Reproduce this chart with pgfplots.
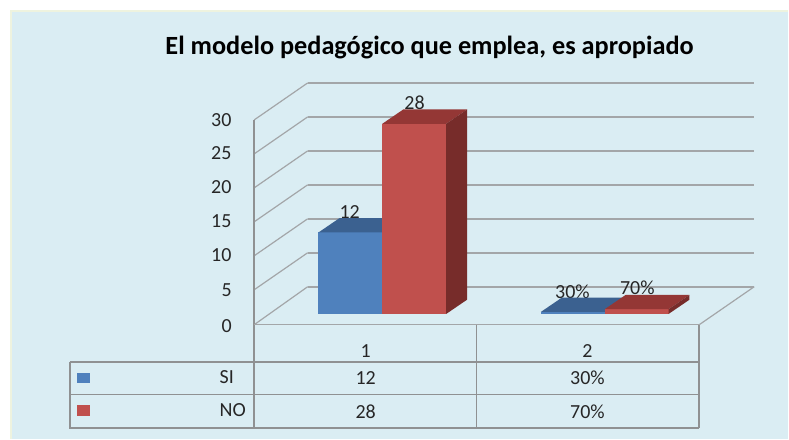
\documentclass[border=0pt]{standalone}
\usepackage{pgfplots}
\pgfplotsset{compat=1.18}
\usepackage{fontspec}
\setmainfont{Carlito}
\definecolor{panel}{HTML}{DAEDF3}
\definecolor{panelb}{HTML}{EEF3DF}
\definecolor{gridc}{HTML}{A3A6A8}
\definecolor{tablec}{HTML}{8F9192}
\definecolor{blueF}{HTML}{4F81BD}
\definecolor{blueT}{HTML}{3B6190}
\definecolor{blueS}{HTML}{2F4E74}
\definecolor{redF}{HTML}{C0504D}
\definecolor{redT}{HTML}{943735}
\definecolor{redS}{HTML}{772C2A}
\definecolor{txt}{HTML}{262626}
\pgfplotsset{base/.style={scale only axis,width=789pt,height=439pt,hide axis,clip=false}}
\newcommand{\lab}[3]{\node[font=\fontsize{20}{20}\selectfont,text=txt,anchor=center,inner sep=0pt] at (axis cs:#1,#2) {#3};}
\begin{document}
\begin{tikzpicture}
% structure of the chart, in picture units
\begin{axis}[base,xmin=0,xmax=789,ymin=0,ymax=439,y dir=reverse]
\addplot[fill=white,draw=none] coordinates {(0,0)(789,0)(789,439)(0,439)} -- cycle;
\addplot[fill=panel,draw=none] coordinates {(11,11)(789,11)(789,439)(11,439)} -- cycle;
\addplot[panelb,line width=1.6pt] coordinates {(11,439)(11,11)(789,11)};
% back wall lines
\foreach \a in {83,117,151,185,219,253,287}{
  \edef\tmp{\noexpand\addplot[gridc,line width=1.7pt] coordinates {(308,\a)(755,\a)};}\tmp
}
% side wall lines
\foreach \a/\b in {120/83,154/117,188/151,222/185,256/219,290/253,325/287}{
  \edef\tmp{\noexpand\addplot[gridc,line width=1.2pt] coordinates {(254.5,\a)(308,\b)};}\tmp
}
\addplot[gridc,line width=1.2pt] coordinates {(700,325)(755,287)};
\addplot[tablec,line width=1.9pt] coordinates {(254.5,120)(254.5,428)};
\addplot[gridc,line width=1.6pt] coordinates {(254.5,325)(700,325)};
\addplot[tablec,line width=1.9pt] coordinates {(700,325)(700,428)};
\addplot[tablec,line width=1.3pt] coordinates {(477,325)(477,428)};
\addplot[tablec,line width=1.9pt] coordinates {(70,362)(700,362)};
\addplot[tablec,line width=1.3pt] coordinates {(70,395)(700,395)};
\addplot[tablec,line width=1.9pt] coordinates {(70,362)(70,428)(700,428)};
\addplot[fill=blueF,draw=none] coordinates {(77,373)(90,373)(90,383)(77,383)} -- cycle;
\addplot[fill=redF,draw=none] coordinates {(77,405)(90,405)(90,416)(77,416)} -- cycle;
% value axis labels
\lab{227}{326}{0}\lab{227}{290}{5}\lab{221.5}{255}{10}\lab{221.5}{221}{15}\lab{221.5}{187}{20}\lab{221.5}{153}{25}\lab{221.5}{120}{30}
% table text
\lab{366}{351}{1}\lab{588}{351}{2}
\lab{227}{377}{SI}\lab{233}{410}{NO}
\lab{366}{378}{12}\lab{588}{378}{30\%}
\lab{366}{412}{28}\lab{588}{412}{70\%}
\node[font=\bfseries\fontsize{26.3}{26.3}\selectfont,text=black,anchor=center,inner sep=0pt] at (axis cs:430,48) {El modelo pedagógico que emplea, es apropiado};
% data labels, partly covered by the bars
\lab{350}{212}{12}\lab{415}{103}{28}\lab{573}{292}{30\%}\lab{638}{288}{70\%}
\end{axis}
% bars: x = category, y = value
\begin{axis}[base,xmin=-0.719,xmax=2.825,ymin=-18.34,ymax=46.22]
% category 1, SI = 12
\addplot[fill=blueF,draw=none] coordinates {(0.713,0)(1,0)(1,12)(0.713,12)} -- cycle;
\addplot[fill=blueT,draw=none] coordinates {(0.713,12)(1,12)(1.094,14.1)(0.807,14.1)} -- cycle;
% category 1, NO = 28
\addplot[fill=redF,draw=none] coordinates {(1,0)(1.287,0)(1.287,28)(1,28)} -- cycle;
\addplot[fill=redT,draw=none] coordinates {(1,28)(1.287,28)(1.381,30.1)(1.094,30.1)} -- cycle;
\addplot[fill=redS,draw=none] coordinates {(1.287,0)(1.381,2.1)(1.381,30.1)(1.287,28)} -- cycle;
% category 2, SI = 0.30
\addplot[fill=blueF,draw=none] coordinates {(1.713,0)(2,0)(2,0.3)(1.713,0.3)} -- cycle;
\addplot[fill=blueT,draw=none] coordinates {(1.713,0.3)(2,0.3)(2.094,2.4)(1.807,2.4)} -- cycle;
% category 2, NO = 0.70
\addplot[fill=redF,draw=none] coordinates {(2,0)(2.287,0)(2.287,0.7)(2,0.7)} -- cycle;
\addplot[fill=redT,draw=none] coordinates {(2,0.7)(2.287,0.7)(2.381,2.8)(2.094,2.8)} -- cycle;
\addplot[fill=redS,draw=none] coordinates {(2.287,0)(2.381,2.1)(2.381,2.8)(2.287,0.7)} -- cycle;
\end{axis}
\end{tikzpicture}
\end{document}
